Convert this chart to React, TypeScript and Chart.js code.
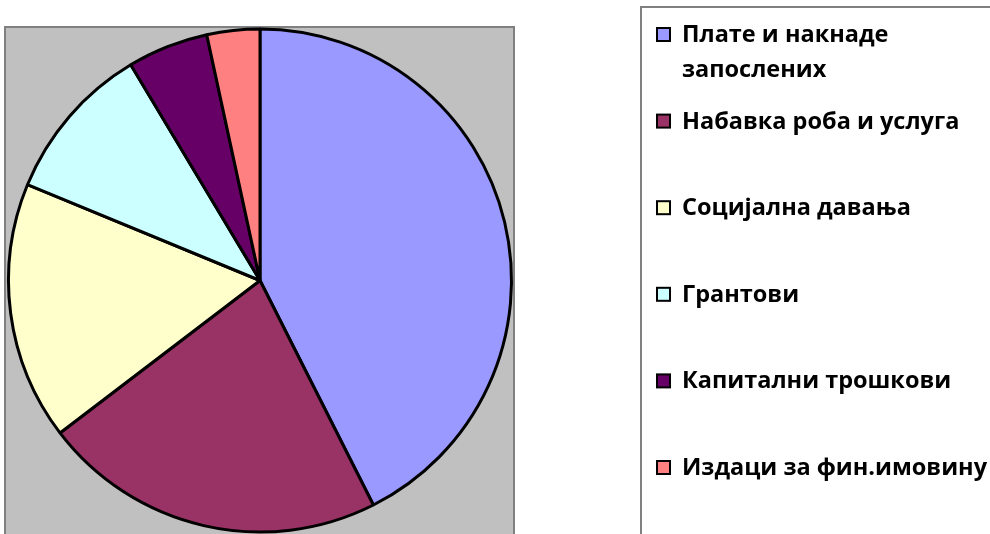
import React, { useEffect, useRef } from "react";
import { Chart, registerables } from "chart.js";

Chart.register(...registerables);

const categories: (string | string[])[] = [
  ["Плате и накнаде", "запослених"],
  "Набавка роба и услуга",
  "Социјална давања",
  "Грантови",
  "Капитални трошкови",
  "Издаци за фин.имовину",
];
const values = [42.6, 22.1, 16.6, 10.2, 5.2, 3.4];
const colors = ["#9999FF", "#993366", "#FFFFCC", "#CCFFFF", "#660066", "#FF8080"];

const framePlugin = {
  id: "frame",
  beforeDraw(chart: any) {
    const ctx = chart.ctx;
    ctx.save();
    ctx.fillStyle = "#ffffff";
    ctx.fillRect(0, 0, chart.width, chart.height);
    // plot area
    ctx.fillStyle = "#C0C0C0";
    ctx.fillRect(5, 27, 509, 520);
    ctx.strokeStyle = "#808080";
    ctx.lineWidth = 2;
    ctx.strokeRect(5, 27, 509, 520);
    // legend box
    ctx.strokeRect(641, 7, 400, 560);
    ctx.restore();
  },
  afterDraw(chart: any) {
    const ctx = chart.ctx;
    const ds = chart.data.datasets[0];
    const labels = chart.data.labels as (string | string[])[];
    ctx.save();
    ctx.font = "bold 23.5px 'Open Sans'";
    ctx.textBaseline = "alphabetic";
    ctx.fillStyle = "#000";
    labels.forEach((lab, i) => {
      const base = 42 + i * 86.6;
      const lines = Array.isArray(lab) ? lab : [lab];
      ctx.fillStyle = ds.backgroundColor[i];
      ctx.fillRect(657, base - 14, 13, 13);
      ctx.strokeStyle = "#000";
      ctx.lineWidth = 2;
      ctx.strokeRect(657, base - 14, 13, 13);
      ctx.fillStyle = "#000";
      lines.forEach((ln, j) => {
        ctx.fillText(ln, 682, base + j * 35);
      });
    });
    ctx.restore();
  },
};

export default function App() {
  const ref = useRef<HTMLCanvasElement>(null);
  useEffect(() => {
    document.body.style.margin = "0";
    const chart = new Chart(ref.current!, {
      type: "pie",
      data: {
        labels: categories,
        datasets: [
          {
            data: values,
            backgroundColor: colors,
            borderColor: "#000000",
            borderWidth: 3,
          },
        ],
      },
      options: {
        responsive: false,
        animation: false,
        layout: { padding: { left: 7, top: 27, right: 477, bottom: 0 } },
        plugins: {
          legend: { display: false },
          tooltip: { enabled: false },
          title: { display: false },
        },
      },
      plugins: [framePlugin],
    });
    return () => chart.destroy();
  }, []);
  return <canvas ref={ref} width={990} height={534} style={{ display: "block" }} />;
}
